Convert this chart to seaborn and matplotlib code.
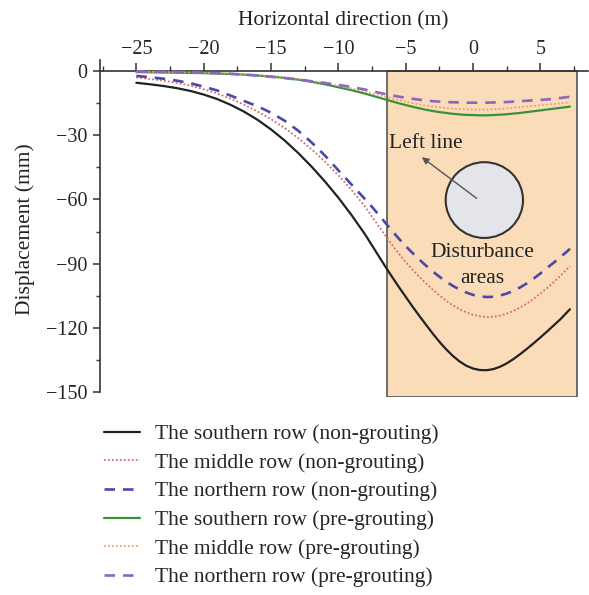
import matplotlib
matplotlib.use("Agg")
import matplotlib.pyplot as plt
import seaborn as sns
import pandas as pd
from matplotlib.patches import Rectangle, Ellipse
from matplotlib.ticker import MultipleLocator

# Horizontal position along the section (m): 1 m spacing on the flank,
# 0.5 m spacing across the trough
x_pos = [-25, -24, -23, -22, -21, -20, -19, -18, -17, -16, -15, -14, -13, -12,
         -11, -10, -9, -8, -7.5, -7, -6.5, -6, -5.5, -5, -4.5, -4, -3.5, -3,
         -2.5, -2, -1.5, -1, -0.5, 0, 0.5, 1, 1.5, 2, 2.5, 3, 3.5, 4, 4.5, 5,
         5.5, 6, 6.5, 7, 7.2]

# Settlement (mm), without grouting
south_non = [-5.5, -6.2, -7.0, -8.0, -9.3, -11.0, -13.1, -15.8, -19.0, -22.8,
             -27.3, -32.4, -38.2, -44.6, -51.6, -59.2, -67.5, -76.5, -81.5, -86.5,
             -91.5, -96.3, -101.0, -105.5, -110.0, -114.3, -118.5, -122.6, -126.5,
             -130.0, -133.1, -135.7, -137.7, -139.0, -139.7, -139.8, -139.3, -138.2,
             -136.6, -134.6, -132.3, -129.8, -127.2, -124.5, -121.7, -118.8, -115.9,
             -112.6, -111.3]
middle_non = [-3.0, -3.7, -4.5, -5.5, -6.8, -8.5, -10.5, -12.9, -15.7, -18.9,
              -22.5, -26.6, -31.3, -36.5, -42.3, -48.7, -55.7, -63.5, -68.0, -72.5,
              -77.0, -81.3, -85.4, -89.2, -92.8, -96.1, -99.2, -102.1, -104.8,
              -107.3, -109.5, -111.3, -112.8, -113.9, -114.6, -114.9, -114.8, -114.3,
              -113.4, -112.1, -110.5, -108.6, -106.4, -104.0, -101.4, -98.6, -95.6,
              -92.4, -91.1]
north_non = [-2.3, -2.9, -3.6, -4.5, -5.7, -7.3, -9.1, -11.5, -14.0, -16.5, -19.5,
             -23.2, -27.8, -33.3, -39.5, -46.4, -53.2, -60.0, -63.5, -67.2, -71.0,
             -74.8, -78.4, -81.8, -85.0, -88.0, -90.9, -93.6, -96.1, -98.4, -100.4,
             -102.1, -103.5, -104.6, -105.3, -105.6, -105.5, -104.9, -104.0, -102.7,
             -101.1, -99.2, -97.0, -94.6, -92.0, -89.5, -86.9, -84.2, -83.1]

# Settlement (mm), with pre-grouting
south_pre = [-0.5, -0.6, -0.7, -0.8, -0.9, -1.0, -1.2, -1.4, -1.7, -2.1, -2.6, -3.2,
             -4.0, -5.0, -6.2, -7.6, -9.0, -10.6, -11.5, -12.4, -13.3, -14.2, -15.1,
             -15.9, -16.7, -17.4, -18.1, -18.7, -19.2, -19.6, -20.0, -20.3, -20.5,
             -20.6, -20.7, -20.7, -20.6, -20.4, -20.2, -19.9, -19.6, -19.2, -18.8,
             -18.4, -18.0, -17.6, -17.2, -16.8, -16.6]
middle_pre = [-0.3, -0.4, -0.5, -0.6, -0.7, -0.8, -1.0, -1.2, -1.5, -1.9, -2.4, -3.0,
              -3.7, -4.6, -5.7, -6.9, -8.2, -9.6, -10.4, -11.2, -12.0, -12.8, -13.6,
              -14.3, -15.0, -15.6, -16.1, -16.6, -17.0, -17.3, -17.6, -17.8, -17.9,
              -18.0, -18.0, -18.0, -17.9, -17.7, -17.5, -17.2, -16.9, -16.6, -16.3,
              -16.0, -15.7, -15.4, -15.1, -14.8, -14.7]
north_pre = [-0.2, -0.3, -0.4, -0.5, -0.6, -0.8, -1.0, -1.3, -1.7, -2.1, -2.7, -3.3,
             -4.0, -4.8, -5.6, -6.5, -7.5, -8.7, -9.4, -10.1, -10.8, -11.4, -12.0,
             -12.5, -13.0, -13.4, -13.8, -14.1, -14.3, -14.5, -14.6, -14.7, -14.8,
             -14.8, -14.8, -14.8, -14.7, -14.6, -14.5, -14.3, -14.1, -13.9, -13.7,
             -13.5, -13.3, -13.0, -12.6, -12.2, -12.0]

labels = [
    "The southern row (non-grouting)",
    "The middle row (non-grouting)",
    "The northern row (non-grouting)",
    "The southern row (pre-grouting)",
    "The middle row (pre-grouting)",
    "The northern row (pre-grouting)",
]
series = [south_non, middle_non, north_non, south_pre, middle_pre, north_pre]

x_ticks = [-25, -20, -15, -10, -5, 0, 5]
y_ticks = [0, -30, -60, -90, -120, -150]

sns.set_style("white")
plt.rcParams["font.family"] = ["Liberation Serif", "DejaVu Serif"]
plt.rcParams["axes.unicode_minus"] = True

fig = plt.figure(figsize=(5.89, 5.95), dpi=100)
W, H = 589, 595
ax_left, ax_right, ax_top, ax_bot = 100, 587.5, 60.3, 397.4
ax = fig.add_axes([ax_left / W, 1 - ax_bot / H, (ax_right - ax_left) / W, (ax_bot - ax_top) / H])

# disturbance zone
ax.add_patch(Rectangle((-6.36, -152.5), 14.06, 152.5, facecolor="#fbdcb8",
                       edgecolor="#555555", lw=1.2, zorder=0))

styles = [
    dict(color="#222222", linestyle="-", lw=1.6),
    dict(color="#d66a6a", linestyle=(0, (1, 1.2)), lw=1.3),
    dict(color="#4a48aa", linestyle=(0, (4, 3)), lw=1.9),
    dict(color="#3a913a", linestyle="-", lw=1.6),
    dict(color="#e8a070", linestyle=(0, (1, 1.2)), lw=1.3),
    dict(color="#8c66c0", linestyle=(0, (4, 3)), lw=1.9),
]

for lab, vals, st in zip(labels, series, styles):
    df = pd.DataFrame({"x": x_pos, "y": vals})
    sns.lineplot(data=df, x="x", y="y", ax=ax, label=lab, zorder=3, **st)

# tunnel cross-section and annotation
ax.add_patch(Ellipse((0.84, -60.3), 5.74, 35.4, facecolor="#e3e5ea",
                     edgecolor="#333333", lw=1.5, zorder=2))
ax.annotate("", xy=(-3.8, -40.3), xytext=(0.27, -59.5),
            arrowprops=dict(arrowstyle="-|>", color="#555555", lw=1.0,
                            mutation_scale=10, shrinkA=0, shrinkB=0), zorder=4)
ax.text(-3.5, -33.8, "Left line", ha="center", va="center", fontsize=15.5,
        color="#222222", zorder=5)
ax.text(0.72, -84.9, "Disturbance", ha="center", va="center", fontsize=15.5,
        color="#222222", zorder=5)
ax.text(0.72, -96.9, "areas", ha="center", va="center", fontsize=15.5,
        color="#222222", zorder=5)

ax.set_xlim(-27.7, 8.5)
ax.set_ylim(-152.5, 5)

for s in ["right", "bottom"]:
    ax.spines[s].set_visible(False)
ax.spines["top"].set_position(("data", 0))
ax.spines["left"].set_bounds(-150, 5)
for s in ["top", "left"]:
    ax.spines[s].set_color("#333333")
    ax.spines[s].set_linewidth(1.2)

ax.xaxis.tick_top()
ax.xaxis.set_label_position("top")
ax.set_xticks(x_ticks)
ax.xaxis.set_minor_locator(MultipleLocator(2.5))
ax.set_yticks(y_ticks)
ax.yaxis.set_minor_locator(MultipleLocator(15))
ax.tick_params(axis="x", which="major", direction="out", length=6, width=1.1,
               color="#333333", labelsize=14.5, pad=3, top=True, bottom=False)
ax.tick_params(axis="x", which="minor", direction="out", length=3.5, width=1.0,
               color="#333333", top=True, bottom=False)
ax.tick_params(axis="y", which="major", direction="out", length=5, width=1.1,
               color="#333333", labelsize=14.5, pad=4, left=True)
ax.tick_params(axis="y", which="minor", direction="out", length=3, width=1.0,
               color="#333333", left=True)

ax.set_xlabel("Horizontal direction (m)", fontsize=15.5, labelpad=10, color="#222222")
ax.set_ylabel("Displacement (mm)", fontsize=15.5, labelpad=8, color="#222222")
ax.grid(False)

h, l = ax.get_legend_handles_labels()
ax.legend_.remove()
fig.legend(h, l, loc="upper left", bbox_to_anchor=(104 / W, 1 - 424 / H),
           frameon=False, fontsize=15.5, handlelength=1.65, handletextpad=0.7,
           labelspacing=0.4, borderpad=0, borderaxespad=0)

fig.savefig("out.png", dpi=100)
